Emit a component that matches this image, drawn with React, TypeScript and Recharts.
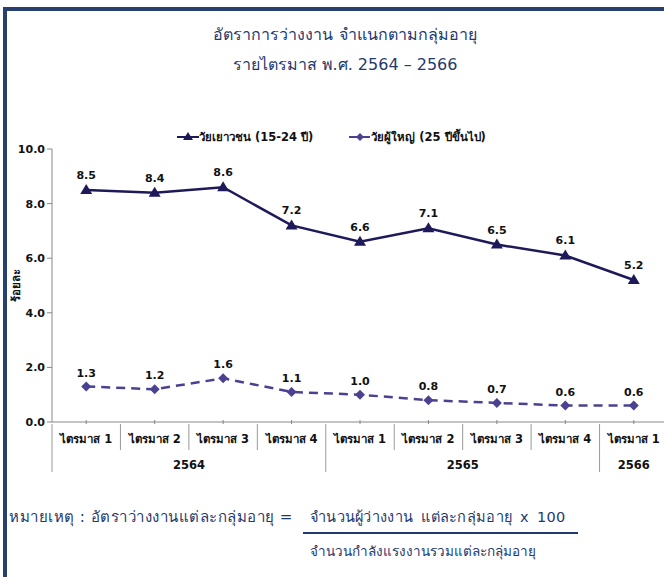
import React from "react"
import { LineChart, Line, XAxis, YAxis, LabelList } from "recharts"

const quarters = ["ไตรมาส 1", "ไตรมาส 2", "ไตรมาส 3", "ไตรมาส 4", "ไตรมาส 1", "ไตรมาส 2", "ไตรมาส 3", "ไตรมาส 4", "ไตรมาส 1"]
const years = ["2564", "2564", "2564", "2564", "2565", "2565", "2565", "2565", "2566"]
const youth = [8.5, 8.4, 8.6, 7.2, 6.6, 7.1, 6.5, 6.1, 5.2]
const adult = [1.3, 1.2, 1.6, 1.1, 1.0, 0.8, 0.7, 0.6, 0.6]
const yTicks = [0, 2, 4, 6, 8, 10]

const youthName = "วัยเยาวชน (15-24 ปี)"
const adultName = "วัยผู้ใหญ่ (25 ปีขึ้นไป)"

const data = quarters.map((q, i) => ({
  id: `${years[i]}-${i}`,
  quarter: q,
  year: years[i],
  youth: youth[i],
  adult: adult[i],
}))

const CHART_W = 672
const CHART_H = 577
const M_LEFT = 0
const Y_W = 52
const M_RIGHT = 4
const BAND = (CHART_W - M_LEFT - Y_W - M_RIGHT) / data.length

const navy = "#1f3a6e"
const frame = "#27406e"
const line1 = "#1e1a5a"
const line2 = "#4a4290"
const font = "Tahoma, 'DejaVu Sans', sans-serif"

const Triangle = (props: any) => {
  const { cx, cy } = props
  if (cx == null || cy == null) return null
  return <polygon points={`${cx},${cy - 6} ${cx + 6},${cy + 4} ${cx - 6},${cy + 4}`} fill={line1} />
}

const Diamond = (props: any) => {
  const { cx, cy } = props
  if (cx == null || cy == null) return null
  return <polygon points={`${cx},${cy - 5} ${cx + 5},${cy} ${cx},${cy + 5} ${cx - 5},${cy}`} fill={line2} />
}

const QuarterTick = (props: any) => {
  const { x, y, payload } = props
  const i = payload.index
  const right = x + BAND / 2
  const isGroupEnd = i === years.length - 1 || years[i + 1] !== years[i]
  const isGroupStart = i === 0 || years[i - 1] !== years[i]
  let yearLabel = null
  if (isGroupStart) {
    let n = 0
    while (i + n < years.length && years[i + n] === years[i]) n++
    yearLabel = (
      <text x={x + ((n - 1) / 2) * BAND} y={y + 45} textAnchor="middle" fontSize={11.5} fontWeight="bold" fill="#111" fontFamily={font}>
        {years[i]}
      </text>
    )
  }
  return (
    <g>
      <line x1={x} x2={x} y1={y} y2={y - 4} stroke="#888" />
      {i === 0 && <line x1={x - BAND / 2} x2={x - BAND / 2} y1={y} y2={y + 48} stroke="#999" />}
      <line x1={right} x2={right} y1={y} y2={isGroupEnd ? y + 48 : y + 26} stroke="#999" />
      <text x={x} y={y + 19} textAnchor="middle" fontSize={11.5} fontWeight="bold" fill="#111" fontFamily={font}>
        {quarters[i]}
      </text>
      {yearLabel}
    </g>
  )
}

const LegendBox = () => (
  <div style={{ position: "absolute", left: 177, top: 128, display: "flex", gap: 36, fontFamily: font, fontSize: 11.5, fontWeight: "bold", color: "#111", whiteSpace: "nowrap" }}>
    <div style={{ display: "flex", alignItems: "center" }}>
      <svg width={22} height={14}>
        <line x1={0} x2={22} y1={7} y2={7} stroke={line1} strokeWidth={2} />
        <polygon points="11,2 16,10 6,10" fill={line1} />
      </svg>
      <span>{youthName}</span>
    </div>
    <div style={{ display: "flex", alignItems: "center" }}>
      <svg width={22} height={14}>
        <line x1={0} x2={22} y1={7} y2={7} stroke={line2} strokeWidth={2} strokeDasharray="9 3" />
        <polygon points="11,3 15,7 11,11 7,7" fill={line2} />
      </svg>
      <span>{adultName}</span>
    </div>
  </div>
)

export default function App() {
  return (
    <div style={{ position: "fixed", left: 0, top: 0, width: 664, height: 577, overflow: "hidden", background: "#fff" }}>
      <div style={{ position: "absolute", left: 0, width: 690, top: 20, textAlign: "center", color: navy, fontFamily: font, fontSize: 16, lineHeight: "30px" }}>
        <div>อัตราการว่างงาน จำแนกตามกลุ่มอายุ</div>
        <div>รายไตรมาส พ.ศ. 2564 – 2566</div>
      </div>
      <div style={{ position: "absolute", left: 0, top: 0 }}>
        <LineChart width={CHART_W} height={CHART_H} data={data} margin={{ top: 149, right: M_RIGHT, left: M_LEFT, bottom: 105 }}>
          <XAxis dataKey="id" height={50} padding={{ left: BAND / 2, right: BAND / 2 }} tickLine={false} tickSize={0} tick={<QuarterTick />} stroke="#888" interval={0} />
          <YAxis
            width={Y_W}
            domain={[0, 10]}
            ticks={yTicks}
            tickFormatter={(v: number) => v.toFixed(1)}
            tick={{ fontSize: 11, fontWeight: "bold", fill: "#111", fontFamily: font }}
            tickSize={5}
            stroke="#888"
            label={{ value: "ร้อยละ", angle: -90, position: "insideLeft", offset: 16, style: { fontSize: 11.5, fontWeight: "bold", fill: "#111", fontFamily: font, textAnchor: "middle" } }}
          />
          <Line dataKey="youth" name={youthName} stroke={line1} strokeWidth={2.5} dot={<Triangle />} activeDot={false} isAnimationActive={false}>
            <LabelList dataKey="youth" position="top" offset={11} formatter={(v: any) => Number(v).toFixed(1)} style={{ fontSize: 11, fontWeight: "bold", fill: "#111", fontFamily: font }} />
          </Line>
          <Line dataKey="adult" name={adultName} stroke={line2} strokeWidth={2.5} strokeDasharray="9 6" dot={<Diamond />} activeDot={false} isAnimationActive={false}>
            <LabelList dataKey="adult" position="top" offset={10} formatter={(v: any) => Number(v).toFixed(1)} style={{ fontSize: 11, fontWeight: "bold", fill: "#111", fontFamily: font }} />
          </Line>
        </LineChart>
      </div>
      <LegendBox />
      <div style={{ position: "absolute", left: 9, top: 505, color: navy, fontFamily: font, fontSize: 15, letterSpacing: 0.5, whiteSpace: "nowrap" }}>
        หมายเหตุ : อัตราว่างงานแต่ละกลุ่มอายุ =
      </div>
      <div style={{ position: "absolute", left: 310, top: 505, color: navy, fontFamily: font, fontSize: 14.5, letterSpacing: 0.3, whiteSpace: "nowrap", wordSpacing: 3 }}>
        จำนวนผู้ว่างงาน แต่ละกลุ่มอายุ x 100
      </div>
      <div style={{ position: "absolute", left: 303, top: 532, width: 275, height: 1.5, background: navy }} />
      <div style={{ position: "absolute", left: 310, top: 540, color: navy, fontFamily: font, fontSize: 13.5, whiteSpace: "nowrap" }}>
        จำนวนกำลังแรงงานรวมแต่ละกลุ่มอายุ
      </div>
      <div style={{ position: "absolute", left: 3, top: 7, width: 670, height: 4, background: frame, zIndex: 5 }} />
      <div style={{ position: "absolute", left: 3, top: 7, width: 4, height: 580, background: frame, zIndex: 5 }} />
    </div>
  )
}
